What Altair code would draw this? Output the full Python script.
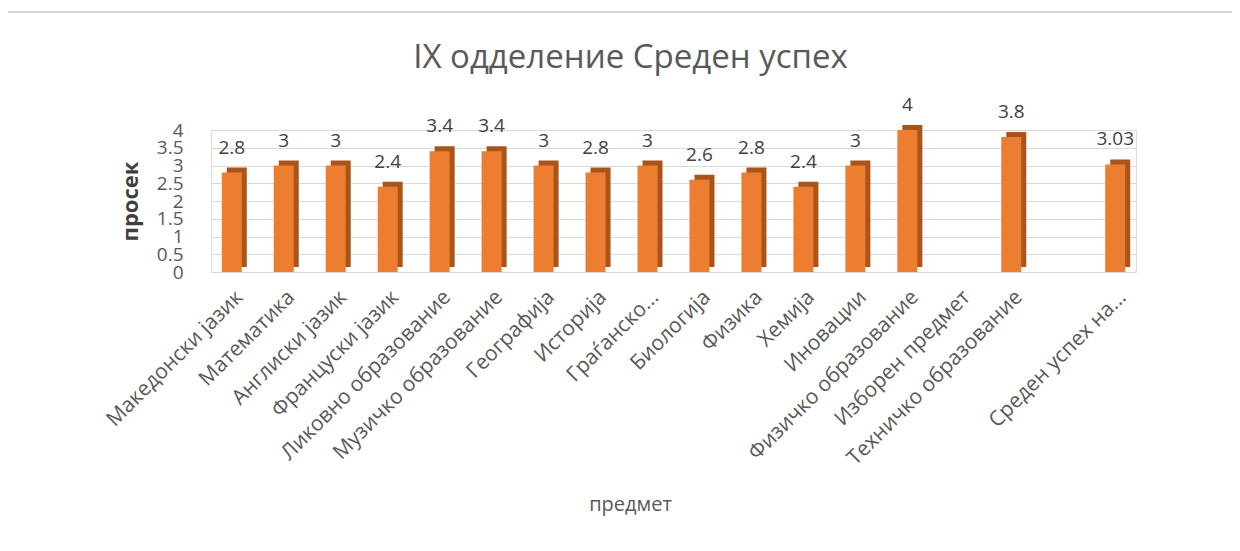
import altair as alt
import pandas as pd

subjects = [
    "Македонски јазик", "Математика", "Англиски јазик", "Француски јазик",
    "Ликовно образование", "Музичко образование", "Географија", "Историја",
    "Граѓанско...", "Биологија", "Физика", "Хемија", "Иновации",
    "Физичко образование", "Изборен предмет", "Техничко образование", " ",
    "Среден успех на...",
]
values = [2.8, 3, 3, 2.4, 3.4, 3.4, 3, 2.8, 3, 2.6, 2.8, 2.4, 3, 4, None, 3.8, None, 3.03]
labels = ["2.8", "3", "3", "2.4", "3.4", "3.4", "3", "2.8", "3", "2.6", "2.8", "2.4", "3", "4", "", "3.8", "", "3.03"]
y_ticks = [0, 0.5, 1, 1.5, 2, 2.5, 3, 3.5, 4]

df = pd.DataFrame({"subject": subjects, "value": values, "label": labels})
df = df[df["value"].notna()]

FONT = "Open Sans"

x = alt.X("subject:N", sort=subjects, scale=alt.Scale(domain=subjects, paddingInner=0.6, paddingOuter=0.2),
          axis=alt.Axis(title="предмет", labelAngle=-45, labelAlign="right", labelBaseline="top",
                        labelFontSize=21, labelColor="#595959", labelFont=FONT, ticks=False,
                        domain=False, labelPadding=14, labelLimit=400, titleFontSize=20, titleFont=FONT,
                        titleColor="#595959", titleFontWeight="normal", titlePadding=26, titleX=419))
y = alt.Y("value:Q", scale=alt.Scale(domain=[0, 4]),
          axis=alt.Axis(title="просек", values=y_ticks, labelOverlap=False, labelFlush=False,
                        format="~g", labelFontSize=19, labelColor="#595959", labelFont=FONT,
                        ticks=False, domain=False, labelPadding=28, gridColor="#d9d9d9",
                        titleFontSize=22, titleFont=FONT, titleColor="#404040",
                        titleFontWeight="bold", titlePadding=14))

base = alt.Chart(df)
side = base.mark_bar(color="#a8541b", size=20, xOffset=5, yOffset=-5).encode(x=x, y=y)
front = base.mark_bar(color="#ed7d31", size=20).encode(x=x, y=y)
text = base.mark_text(dy=-15, baseline="bottom", fontSize=19, color="#404040", font=FONT).encode(
    x=x, y=y, text="label:N")

frame = alt.Chart(pd.DataFrame({"a": [0]})).mark_rect(
    fill=None, stroke="#d9d9d9", strokeWidth=2
).encode(x=alt.value(-204), x2=alt.value(1040), y=alt.value(-118), y2=alt.value(440))

chart = alt.layer(frame, side, front, text).properties(
    width=925, height=142,
    title=alt.TitleParams("IX одделение Среден успех", fontSize=33, font=FONT, color="#595959",
                          fontWeight="normal", offset=-64, dx=-43, frame="group"),
    autosize=alt.AutoSizeParams(type="none"),
    padding={"left": 203, "top": 122, "right": 96, "bottom": 271},
).configure_view(stroke=None).configure(background="white")

chart.save("out.html", embed_options={"renderer": "svg", "actions": False})
